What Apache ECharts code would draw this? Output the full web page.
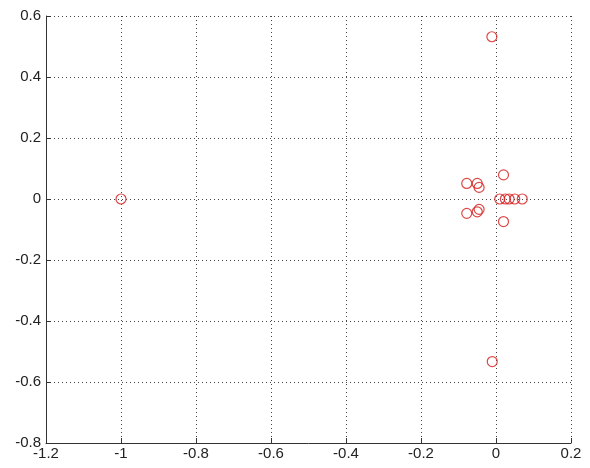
<!DOCTYPE html>
<html><head><meta charset="utf-8">
<script src="https://cdn.jsdelivr.net/npm/echarts@6/dist/echarts.min.js"></script>
<style>html,body{margin:0;padding:0;background:#fff}#c{width:590px;height:468px}</style>
</head><body><div id="c"></div>
<script>
const xValues = [-1.0, -0.011, -0.010, -0.078, -0.050, -0.045, -0.078, -0.050, -0.045, 0.020, 0.020, 0.010, 0.025, 0.035, 0.050, 0.070];
const yValues = [0.0, 0.532, -0.533, 0.051, 0.051, 0.038, -0.047, -0.042, -0.034, 0.079, -0.074, 0.0, 0.0, 0.0, 0.0, 0.0];
const xTicks = [-1.2, -1, -0.8, -0.6, -0.4, -0.2, 0, 0.2];
const yTicks = [-0.8, -0.6, -0.4, -0.2, 0, 0.2, 0.4, 0.6];
const points = xValues.map((x, i) => [x, yValues[i]]);
const fontFam = 'Liberation Sans, Arial, sans-serif';
const chart = echarts.init(document.getElementById('c'), null, {renderer: 'canvas'});
const axisCommon = {
  axisLine: {show: true, onZero: false, lineStyle: {color: '#333', width: 1}},
  axisTick: {show: true, inside: true, length: 5, lineStyle: {color: '#333'}},
  splitLine: {show: true, showMinLine: true, showMaxLine: true, lineStyle: {color: '#444', type: [1, 3], width: 1}},
  axisLabel: {color: '#222', fontSize: 15, fontFamily: fontFam}
};
chart.setOption({
  animation: false,
  backgroundColor: '#fff',
  grid: {left: 46, right: 19, top: 16, bottom: 25, containLabel: false},
  xAxis: Object.assign({}, axisCommon, {
    type: 'value', min: xTicks[0], max: xTicks[xTicks.length - 1], interval: 0.2,
    axisLabel: Object.assign({}, axisCommon.axisLabel, {margin: 3, formatter: v => String(Math.round(v * 10) / 10)})
  }),
  yAxis: Object.assign({}, axisCommon, {
    type: 'value', min: yTicks[0], max: yTicks[yTicks.length - 1], interval: 0.2,
    axisLabel: Object.assign({}, axisCommon.axisLabel, {margin: 5, formatter: v => String(Math.round(v * 10) / 10)})
  }),
  series: [{
    type: 'scatter',
    data: points,
    symbol: 'circle',
    symbolSize: 10,
    itemStyle: {color: 'rgba(0,0,0,0)', borderColor: '#d41c1c', borderWidth: 1.2}
  }]
});
</script></body></html>
